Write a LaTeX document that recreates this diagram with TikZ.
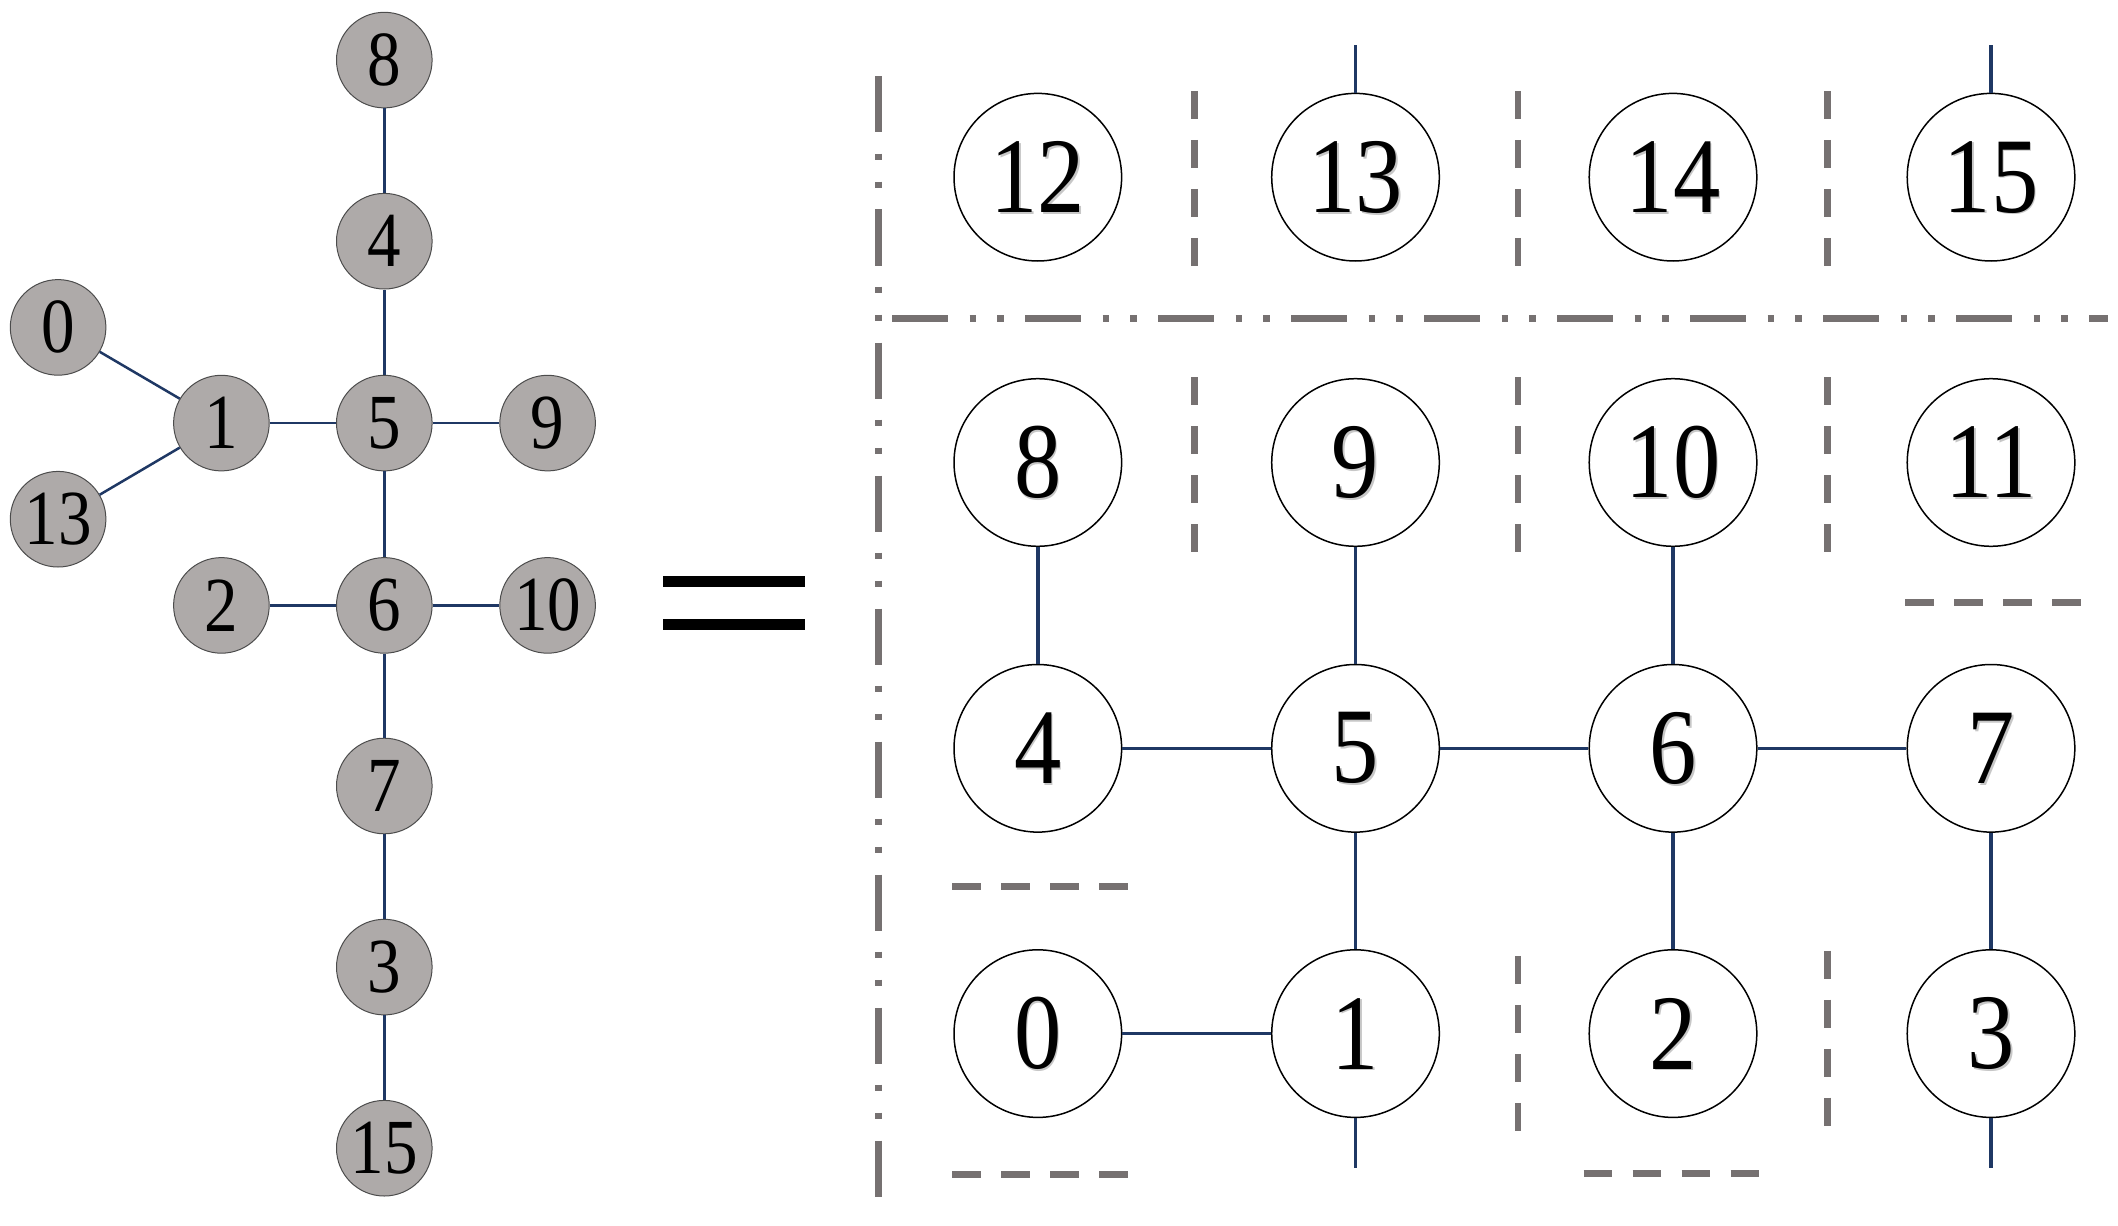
\documentclass[tikz,border=0pt]{standalone}
\usepackage{fontspec}
\usepackage{graphicx}
\setmainfont{Liberation Serif}
\definecolor{navy}{HTML}{1F3864}
\definecolor{treegray}{HTML}{AEAAA9}
\definecolor{divgray}{HTML}{767171}
\newcommand\lfnt{\fontsize{39pt}{39pt}\selectfont}
\newcommand\gfnt{\fontsize{53.7pt}{53.7pt}\selectfont}
\newcommand\tlab[1]{\scalebox{0.86}[1]{#1}}
\newcommand\glab[1]{\scalebox{0.88}[1]{#1}}
\tikzset{
  tnode/.style={circle, draw=black!70, line width=0.5pt, fill=treegray, minimum size=47.8pt, inner sep=0pt, font=\lfnt},
  gnode/.style={circle, draw=black, line width=0.75pt, fill=white, minimum size=83.8pt, inner sep=0pt},
  gtext/.style={inner sep=0pt, font=\gfnt, text=black},
  gshadow/.style={inner sep=0pt, font=\gfnt, text=black!22},
  tedge/.style={draw=navy, line width=1.25pt},
  gedge/.style={draw=navy, line width=1.75pt},
  ddline/.style={draw=divgray, line width=3.35pt, dash pattern=on 28pt off 10.6pt on 3.35pt off 10.6pt on 3.35pt off 10.6pt},
  dfour/.style={draw=divgray, line width=3.35pt, dash pattern=on 14.15pt off 10.35pt},
  eqbar/.style={draw=black, line width=5.35pt}
}
\newcommand\gn[3]{%
  \node[gnode] (#1) at (#2) {};
  \node[gshadow] at ([shift={(1.8,1.8)}]#1.center) {\glab{#3}};
  \node[gtext] at (#1.center) {\glab{#3}};
}
\begin{document}
\begin{tikzpicture}[x=0.5pt, y=-0.5pt]
\useasboundingbox (0,0) rectangle (2118,1225);

% ---------- left tree ----------
\node[tnode] (t8)  at (384.3,60.1)  {\tlab{8}};
\node[tnode] (t4)  at (384.3,241.2) {\tlab{4}};
\node[tnode] (t0)  at (58.1,327.4)  {\tlab{0}};
\node[tnode] (t1)  at (221.4,423.1) {\tlab{1}};
\node[tnode] (t5)  at (384.3,423.1) {\tlab{5}};
\node[tnode] (t9)  at (547.6,423.1) {\tlab{9}};
\node[tnode] (t13) at (58.1,519.2)  {\tlab{13}};
\node[tnode] (t2)  at (221.4,605.4) {\tlab{2}};
\node[tnode] (t6)  at (384.3,605.4) {\tlab{6}};
\node[tnode] (t10) at (547.6,605.4) {\tlab{10}};
\node[tnode] (t7)  at (384.3,786)   {\tlab{7}};
\node[tnode] (t3)  at (384.3,967.1) {\tlab{3}};
\node[tnode] (t15) at (384.3,1148.2){\tlab{15}};

\draw[tedge] (t8) -- (t4);
\draw[tedge] (t4) -- (t5);
\draw[tedge] (t0) -- (t1);
\draw[tedge] (t13) -- (t1);
\draw[tedge] (t1) -- (t5);
\draw[tedge] (t5) -- (t9);
\draw[tedge] (t5) -- (t6);
\draw[tedge] (t2) -- (t6);
\draw[tedge] (t6) -- (t10);
\draw[tedge] (t6) -- (t7);
\draw[tedge] (t7) -- (t3);
\draw[tedge] (t3) -- (t15);

% ---------- equals sign ----------
\draw[eqbar] (663.3,581.3) -- (805,581.3);
\draw[eqbar] (663.3,624.5) -- (805,624.5);

% ---------- dividers ----------
\draw[ddline] (878.3,76.5) -- (878.3,1196.7);
\draw[ddline] (892.3,318.3) -- (2108.3,318.3);

\draw[dfour] (1194.3,91) -- (1194.3,266.3);
\draw[dfour] (1518,91) -- (1518,266.3);
\draw[dfour] (1827.6,91) -- (1827.6,266.3);
\draw[dfour] (1194.3,377) -- (1194.3,552.3);
\draw[dfour] (1518,377) -- (1518,552.3);
\draw[dfour] (1827.6,377) -- (1827.6,552.3);
\draw[dfour] (1518,955.9) -- (1518,1131.2);
\draw[dfour] (1827.6,950.7) -- (1827.6,1126);

\draw[dfour] (1905.3,602.3) -- (2080.7,602.3);
\draw[dfour] (952.3,886.2) -- (1127.7,886.2);
\draw[dfour] (952.3,1174.3) -- (1127.7,1174.3);
\draw[dfour] (1583.5,1173.3) -- (1758.8,1173.3);

% ---------- grid ----------
\gn{g12}{1037.8,177.2}{12}
\gn{g13}{1355.5,177.2}{13}
\gn{g14}{1673,177.2}{14}
\gn{g15}{1991,177.2}{15}
\gn{g8}{1037.8,462.5}{8}
\gn{g9}{1355.5,462.5}{9}
\gn{g10}{1673,462.5}{10}
\gn{g11}{1991,462.5}{11}
\gn{g4}{1037.8,748.3}{4}
\gn{g5}{1355.5,748.3}{5}
\gn{g6}{1673,748.3}{6}
\gn{g7}{1991,748.3}{7}
\gn{g0}{1037.8,1033.6}{0}
\gn{g1}{1355.5,1033.6}{1}
\gn{g2}{1673,1033.6}{2}
\gn{g3}{1991,1033.6}{3}

\coordinate (s13) at (1355.5,45.2);
\coordinate (s15) at (1991,45.2);
\coordinate (s1)  at (1355.5,1168);
\coordinate (s3)  at (1991,1168);

\draw[gedge] (g13) -- (s13);
\draw[gedge] (g15) -- (s15);
\draw[gedge] (g1) -- (s1);
\draw[gedge] (g3) -- (s3);
\draw[gedge] (g8) -- (g4);
\draw[gedge] (g9) -- (g5);
\draw[gedge] (g10) -- (g6);
\draw[gedge] (g4) -- (g5);
\draw[gedge] (g5) -- (g6);
\draw[gedge] (g6) -- (g7);
\draw[gedge] (g5) -- (g1);
\draw[gedge] (g6) -- (g2);
\draw[gedge] (g7) -- (g3);
\draw[gedge] (g0) -- (g1);
\end{tikzpicture}
\end{document}
